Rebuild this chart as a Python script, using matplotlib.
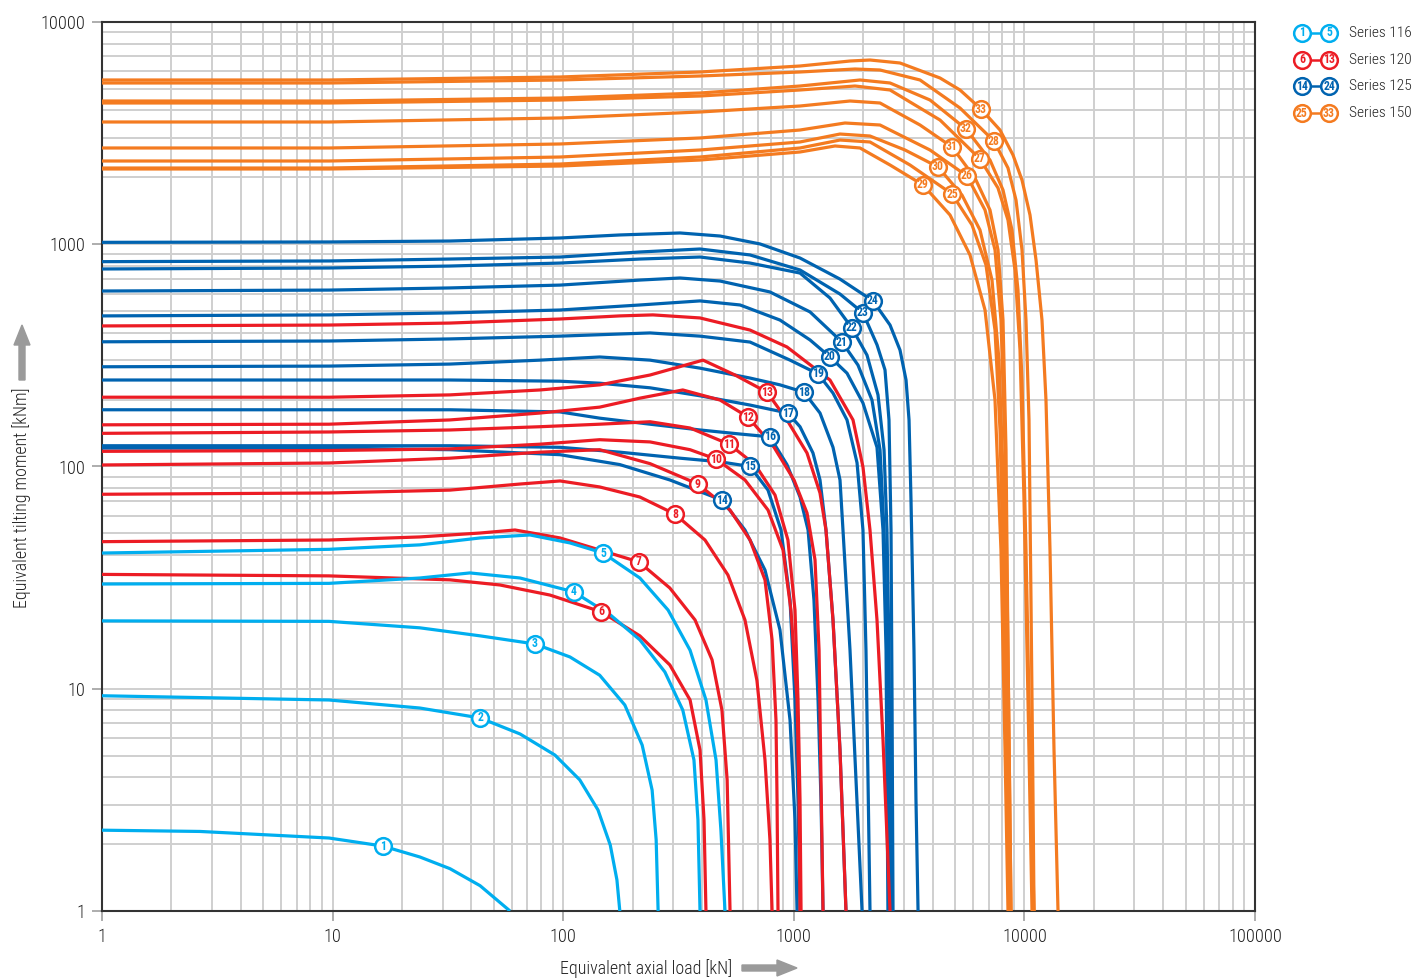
import matplotlib
matplotlib.use("Agg")
import matplotlib.pyplot as plt
from matplotlib import font_manager
from matplotlib.lines import Line2D
from matplotlib.patches import FancyArrow
from matplotlib.ticker import FixedLocator, LogLocator, NullFormatter

# ---- font: prefer a narrow sans --------------------------------------------
_entries = font_manager.fontManager.ttflist
_names = {f.name for f in _entries}
FONT = None
for cand in ['Roboto Condensed', 'Open Sans Condensed', 'Noto Sans Condensed',
             'Liberation Sans Narrow', 'Arial Narrow', 'DejaVu Sans Condensed']:
    if cand in _names:
        FONT = cand
        break
if FONT is None:
    FONT = 'Roboto' if 'Roboto' in _names else 'Liberation Sans'
plt.rcParams['font.family'] = [FONT, 'DejaVu Sans']
LIGHT = 'light'

# ---- colours -------------------------------------------------------------
C116 = '#00aeef'
C120 = '#ec1c24'
C125 = '#0063b0'
C150 = '#f47b20'
TXT = '#222222'

# ---- load limit curves: axial load [kN] vs tilting moment [kNm] -----------
# each curve is a list of read points; *_tag gives the index of the point
# that carries the curve number
# Series 116
s116_ids = [1, 2, 3, 4, 5]
s116_load = [
    [1, 2.66, 9.65, 16.5, 23.9, 32.3, 43.6, 58.8],
    [1, 9.65, 23.9, 43.6, 65, 92.1, 118, 141.5, 160, 171, 176],
    [1, 9.65, 23.9, 43.6, 75.5, 107, 144, 185, 220, 243, 253, 258],
    [1, 9.65, 23.9, 39.4, 65, 111, 160, 215, 276, 330, 369, 384, 392],
    [1, 9.65, 23.9, 43.6, 71.8, 107, 149, 215, 285, 355, 416, 460, 483, 503],
]
s116_moment = [
    [2.31, 2.28, 2.13, 1.96, 1.75, 1.55, 1.30, 1.0],
    [9.3, 8.9, 8.19, 7.39, 6.26, 5.03, 3.89, 2.85, 1.98, 1.38, 1.0],
    [20.2, 20.1, 18.8, 17.3, 15.9, 13.9, 11.5, 8.45, 5.58, 3.50, 2.09, 1.0],
    [29.6, 29.8, 31.5, 33.2, 31.5, 27.3, 21.5, 16.6, 11.9, 8.02, 4.78, 2.57, 1.0],
    [40.8, 42.4, 44.4, 47.7, 49.2, 45.3, 40.8, 31.5, 22.6, 14.9, 8.9, 4.78, 2.31, 1.0],
]
s116_tag = [3, 3, 4, 5, 6]

# Series 120 (the last curve carries no number)
s120_ids = [6, 7, 8, 9, 10, 11, 12, 13, None]
s120_load = [
    [1, 9.65, 32.3, 53.2, 87.6, 146, 215, 290, 355, 392, 408, 416],
    [1, 9.65, 23.9, 43.6, 61.8, 96.9, 144, 213, 290, 373, 442, 488, 514, 529],
    [1, 9.65, 32.3, 65, 96.9, 144, 215, 305, 412, 518, 614, 692, 750, 788, 805],
    [1, 9.65, 32.3, 79.3, 144, 238, 384, 529, 646, 750, 805, 837, 846, 854],
    [1, 9.65, 32.3, 79.3, 144, 238, 355, 460, 614, 773, 898, 972, 1033, 1054, 1064],
    [1, 9.65, 32.3, 79.3, 144, 238, 355, 524, 679, 829, 943, 1012, 1043, 1064, 1075],
    [1, 9.65, 32.3, 79.3, 144, 215, 330, 479, 633, 821, 1002, 1141, 1236, 1287, 1312, 1339],
    [1, 9.65, 32.3, 79.3, 144, 238, 404, 556, 765, 934, 1141, 1299, 1379, 1479, 1586, 1684],
    [1, 9.65, 32.3, 96.9, 176, 245, 392, 646, 934, 1435, 1806, 1995, 2140, 2295, 2437, 2614],
]
s120_moment = [
    [32.7, 32.2, 30.9, 29.3, 26.4, 22.2, 17.3, 12.8, 8.9, 5.30, 2.57, 1.0],
    [45.9, 46.7, 48.2, 50.2, 51.8, 47.7, 42.1, 37.2, 28.4, 20.4, 13.5, 8.02, 3.89, 1.0],
    [75, 76, 78.3, 83.4, 86.1, 80.9, 72.9, 61.1, 46.7, 32.5, 20.4, 10.9, 4.78, 2.09, 1.0],
    [101.6, 103.7, 109, 116, 119, 103, 83.4, 63.7, 46.7, 30.9, 16.6, 7.23, 3.16, 1.0],
    [117, 118, 120, 126, 132, 129, 119, 108, 87, 63.7, 42.1, 22.6, 8.9, 3.16, 1],
    [141, 143, 146, 151, 155, 159, 149, 126, 102, 74.4, 46.7, 22.6, 8.9, 3.16, 1],
    [154, 155, 162, 174, 185, 203, 221, 199, 167, 122, 87, 61.8, 38, 14.9, 3.89, 1],
    [205, 205, 210, 221, 233, 258, 301, 258, 216, 162, 115, 76, 51.8, 20.4, 5.30, 1],
    [429, 433, 442, 461, 476, 481, 466, 411, 345, 245, 162, 99.5, 51.8, 20.4, 5.88, 1],
]
s120_tag = [5, 7, 7, 6, 7, 7, 8, 8, None]

# Series 125
s125_ids = [14, 15, 16, 17, 18, 19, 20, 21, 22, 23, 24]
s125_load = [
    [1, 9.65, 32.3, 96.9, 176, 290, 488, 614, 750, 871, 963, 1012, 1033],
    [1, 9.65, 32.3, 96.9, 176, 321, 479, 646, 773, 880, 963, 1012, 1043, 1064],
    [1, 9.65, 32.3, 96.9, 144, 238, 392, 585, 788, 934, 1064, 1153, 1223, 1274, 1312, 1339],
    [1, 9.65, 32.3, 96.9, 144, 238, 392, 646, 943, 1064, 1211, 1299, 1379, 1479, 1586, 1684],
    [1, 9.65, 32.3, 79.3, 144, 238, 392, 646, 871, 1107, 1299, 1479, 1586, 1634, 1753, 1861, 1977],
    [1, 9.65, 32.3, 96.9, 238, 392, 646, 963, 1274, 1479, 1701, 1880, 1995, 2056, 2098, 2140],
    [1, 9.65, 32.3, 96.9, 215, 392, 585, 871, 1176, 1435, 1701, 1995, 2295, 2437, 2512, 2535, 2560],
    [1, 9.65, 32.3, 96.9, 215, 321, 479, 788, 1176, 1618, 1898, 2183, 2365, 2462, 2535, 2587, 2614],
    [1, 9.65, 32.3, 96.9, 215, 392, 646, 1064, 1435, 1786, 2077, 2318, 2462, 2535, 2587, 2614, 2640],
    [1, 9.65, 32.3, 96.9, 215, 392, 646, 1064, 1586, 1995, 2295, 2486, 2587, 2640, 2667, 2693],
    [1, 9.65, 32.3, 96.9, 176, 321, 479, 714, 1064, 1586, 2205, 2614, 2888, 3067, 3160, 3223, 3320, 3387, 3458],
]
s125_moment = [
    [121, 121, 119, 113, 102, 87, 70.6, 51.8, 34.2, 18.4, 7.23, 2.57, 1],
    [124, 124, 124, 122, 116, 109, 105, 100, 78.3, 51.8, 25.1, 8.9, 3.16, 1],
    [180, 180, 180, 176, 165, 155, 146, 140, 136, 102, 72.9, 51.8, 25.1, 8.9, 3.16, 1],
    [245, 245, 245, 242, 237, 226, 208, 189, 174, 151, 115, 87, 51.8, 20.4, 5.30, 1],
    [281, 283, 289, 301, 311, 301, 277, 250, 233, 216, 174, 122, 87, 51.8, 14.9, 3.89, 1],
    [364, 367, 375, 386, 399, 386, 363, 301, 261, 214, 162, 104, 51.8, 14.9, 3.89, 1],
    [476, 481, 491, 506, 533, 556, 533, 456, 371, 311, 263, 193, 122, 51.8, 14.9, 3.89, 1],
    [616, 622, 636, 655, 690, 705, 683, 610, 496, 363, 286, 199, 119, 51.8, 14.9, 3.89, 1],
    [774, 782, 798, 823, 858, 876, 823, 742, 573, 420, 317, 210, 119, 51.8, 14.9, 3.89, 1],
    [835, 841, 858, 876, 923, 952, 895, 766, 597, 491, 353, 272, 162, 51.8, 8.9, 1],
    [1020, 1024, 1034, 1067, 1101, 1124, 1089, 1003, 867, 697, 556, 433, 334, 245, 162, 70.6, 14.9, 3.16, 1],
]
s125_tag = [6, 7, 8, 8, 9, 8, 9, 9, 9, 9, 10]

# Series 150
s150_ids = [33, 28, 32, 27, 31, 26, 30, 25, 29]
s150_load = [
    [1, 9.65, 96.9, 392, 1064, 1753, 2140, 2888, 4306, 5257, 6484, 7838, 8925, 9763, 10576, 11230, 11920, 12405, 12913, 13440, 13988],
    [1, 9.65, 96.9, 392, 1064, 1842, 2365, 3527, 5257, 7379, 8489, 9196, 9763, 10160, 10470, 10680, 10900, 11010],
    [1, 9.65, 96.9, 392, 1064, 1937, 2614, 3896, 5582, 7092, 8076, 8836, 9380, 9763, 10160, 10576, 11010],
    [1, 9.65, 96.9, 392, 1064, 1842, 2614, 4306, 6418, 7683, 8489, 9104, 9571, 9961, 10365, 10790],
    [1, 9.65, 96.9, 392, 1064, 1753, 2365, 3527, 4855, 6107, 7092, 7683, 8076, 8322, 8489, 8749],
    [1, 9.65, 96.9, 392, 1064, 1667, 2365, 3896, 5636, 6749, 7457, 7914, 8240, 8489, 8749],
    [1, 9.65, 96.9, 392, 1064, 1586, 2140, 3036, 4220, 5362, 6418, 7236, 7759, 8156, 8404, 8662],
    [1, 9.65, 96.9, 392, 1064, 1586, 2140, 3191, 4855, 5928, 6815, 7457, 7838, 8156, 8404, 8575],
    [1, 9.65, 96.9, 392, 1064, 1509, 1937, 2614, 3634, 4759, 5808, 6749, 7457, 7914, 8240, 8489],
]
s150_moment = [
    [5484, 5484, 5656, 5957, 6339, 6675, 6745, 6539, 5598, 4944, 4059, 3266, 2521, 1945, 1354, 850, 456, 199, 42.1, 5.30, 1],
    [5316, 5316, 5484, 5715, 5957, 6145, 6082, 5484, 4102, 2914, 2203, 1581, 943, 456, 162, 25.1, 3.16, 1],
    [4411, 4411, 4550, 4792, 5152, 5484, 5316, 4457, 3301, 2393, 1754, 1159, 622, 245, 42.1, 5.30, 1],
    [4321, 4321, 4457, 4645, 4944, 5152, 4944, 3622, 2419, 1791, 1285, 766, 334, 70.6, 8.9, 1],
    [3549, 3549, 3700, 3936, 4188, 4411, 4321, 3440, 2739, 1986, 1426, 943, 456, 119, 14.9, 1],
    [2711, 2711, 2826, 3007, 3266, 3512, 3440, 2655, 2029, 1426, 943, 456, 119, 14.9, 1],
    [2369, 2369, 2469, 2655, 2885, 3133, 3069, 2655, 2227, 1665, 1159, 690, 301, 70.6, 8.9, 1],
    [2203, 2203, 2296, 2469, 2711, 2944, 2885, 2273, 1683, 1221, 807, 411, 146, 25.1, 3.16, 1],
    [2181, 2181, 2249, 2393, 2601, 2768, 2711, 2273, 1848, 1354, 895, 506, 199, 42.1, 5.30, 1],
]
s150_tag = [10, 9, 8, 8, 8, 8, 8, 8, 8]

series_names = ['Series 116', 'Series 120', 'Series 125', 'Series 150']
legend_ranges = [(1, 5), (6, 13), (14, 24), (25, 33)]
legend_colors = [C116, C120, C125, C150]

# drawn back to front
series = [
    (C150, s150_ids, s150_load, s150_moment, s150_tag),
    (C125, s125_ids, s125_load, s125_moment, s125_tag),
    (C120, s120_ids, s120_load, s120_moment, s120_tag),
    (C116, s116_ids, s116_load, s116_moment, s116_tag),
]

xticks = [1, 10, 100, 1000, 10000, 100000]
yticks = [1, 10, 100, 1000, 10000]

# ---- figure --------------------------------------------------------------
W, H = 1416, 980
fig = plt.figure(figsize=(W / 100, H / 100), dpi=100)
renderer = fig.canvas.get_renderer()


def fit_size(text, width_px, base=14.0, max_size=16.0, weight='normal'):
    """Font size at which `text` spans about `width_px` pixels."""
    t = fig.text(0, 0, text, fontsize=base, fontweight=weight)
    w = t.get_window_extent(renderer).width
    t.remove()
    return min(max_size, base * width_px / w)


tick_fs = fit_size('10000', 45, weight=LIGHT)
title_fs = fit_size('Equivalent axial load [kN]', 173, weight=LIGHT)
legend_fs = fit_size('Series 116', 63, weight=LIGHT)
tag_fs = min(8.5, fit_size('33', 12, base=8.0, weight='bold'))

ax = fig.add_axes([102 / W, 1 - 911 / H, (1255 - 102) / W, (911 - 22) / H])
ax.set_xscale('log')
ax.set_yscale('log')
ax.set_xlim(1, 1e5)
ax.set_ylim(1, 1e4)

ax.xaxis.set_major_locator(FixedLocator(xticks))
ax.yaxis.set_major_locator(FixedLocator(yticks))
ax.xaxis.set_minor_locator(LogLocator(base=10, subs=range(2, 10), numticks=20))
ax.yaxis.set_minor_locator(LogLocator(base=10, subs=range(2, 10), numticks=20))
ax.xaxis.set_minor_formatter(NullFormatter())
ax.yaxis.set_minor_formatter(NullFormatter())
ax.set_xticklabels([str(v) for v in xticks], fontweight=LIGHT)
ax.set_yticklabels([str(v) for v in yticks], fontweight=LIGHT)
ax.tick_params(which='major', direction='out', length=7, width=1.2,
               color='#a0a0a0', labelsize=tick_fs, labelcolor=TXT)
ax.tick_params(which='minor', length=0)
ax.tick_params(axis='x', pad=5)
ax.tick_params(axis='y', pad=5)
ax.grid(which='both', color='#cfcfcf', linewidth=1.4)
ax.set_axisbelow(True)
for sp in ax.spines.values():
    sp.set_color('#333333')
    sp.set_linewidth(1.5)

for col, ids, loads, moments, tags in series:
    for cid, xs, ys, ti in zip(ids, loads, moments, tags):
        ax.plot(xs, ys, color=col, lw=2.3, solid_joinstyle='round',
                solid_capstyle='butt', zorder=3)
    for cid, xs, ys, ti in zip(ids, loads, moments, tags):
        if cid is None:
            continue
        ax.plot(xs[ti], ys[ti], marker='o', ms=12, mfc='white', mec=col,
                mew=1.8, zorder=5)
        ax.text(xs[ti], ys[ti], str(cid), color=col, fontsize=tag_fs,
                fontweight='bold', ha='center', va='center', zorder=6)

# ---- axis titles with arrows ----------------------------------------------
fig.text(560 / W, 1 - 969 / H, 'Equivalent axial load [kN]', fontsize=title_fs,
         fontweight=LIGHT, color=TXT, ha='left', va='center')
fig.add_artist(FancyArrow(742 / W, 1 - 968 / H, 55 / W, 0, width=6 / H,
                          head_width=16 / H, head_length=20 / W,
                          length_includes_head=True, color='#9a9a9a',
                          transform=fig.transFigure))
fig.text(22 / W, 1 - 498 / H, 'Equivalent tilting moment [kNm]',
         fontsize=title_fs, fontweight=LIGHT, color=TXT, rotation=90,
         ha='center', va='center')
fig.add_artist(FancyArrow(22 / W, 1 - 380 / H, 0, 55 / H, width=6 / W,
                          head_width=16 / W, head_length=20 / H,
                          length_includes_head=True, color='#9a9a9a',
                          transform=fig.transFigure))

# ---- legend ----------------------------------------------------------------
for i, (name, (first, last), col) in enumerate(
        zip(series_names, legend_ranges, legend_colors)):
    yy = 1 - (33 + 26.7 * i) / H
    fig.add_artist(Line2D([1302 / W, 1329 / W], [yy, yy], color=col, lw=1.8,
                          transform=fig.transFigure))
    for xx, num in ((1302, first), (1329, last)):
        fig.add_artist(Line2D([xx / W], [yy], marker='o', ms=12, mfc='white',
                              mec=col, mew=1.8, transform=fig.transFigure))
        fig.text(xx / W, yy, str(num), color=col, fontsize=tag_fs,
                 fontweight='bold', ha='center', va='center')
    fig.text(1349 / W, yy, name, fontsize=legend_fs, fontweight=LIGHT,
             color=TXT, ha='left', va='center')

fig.savefig('out.png', dpi=100)
